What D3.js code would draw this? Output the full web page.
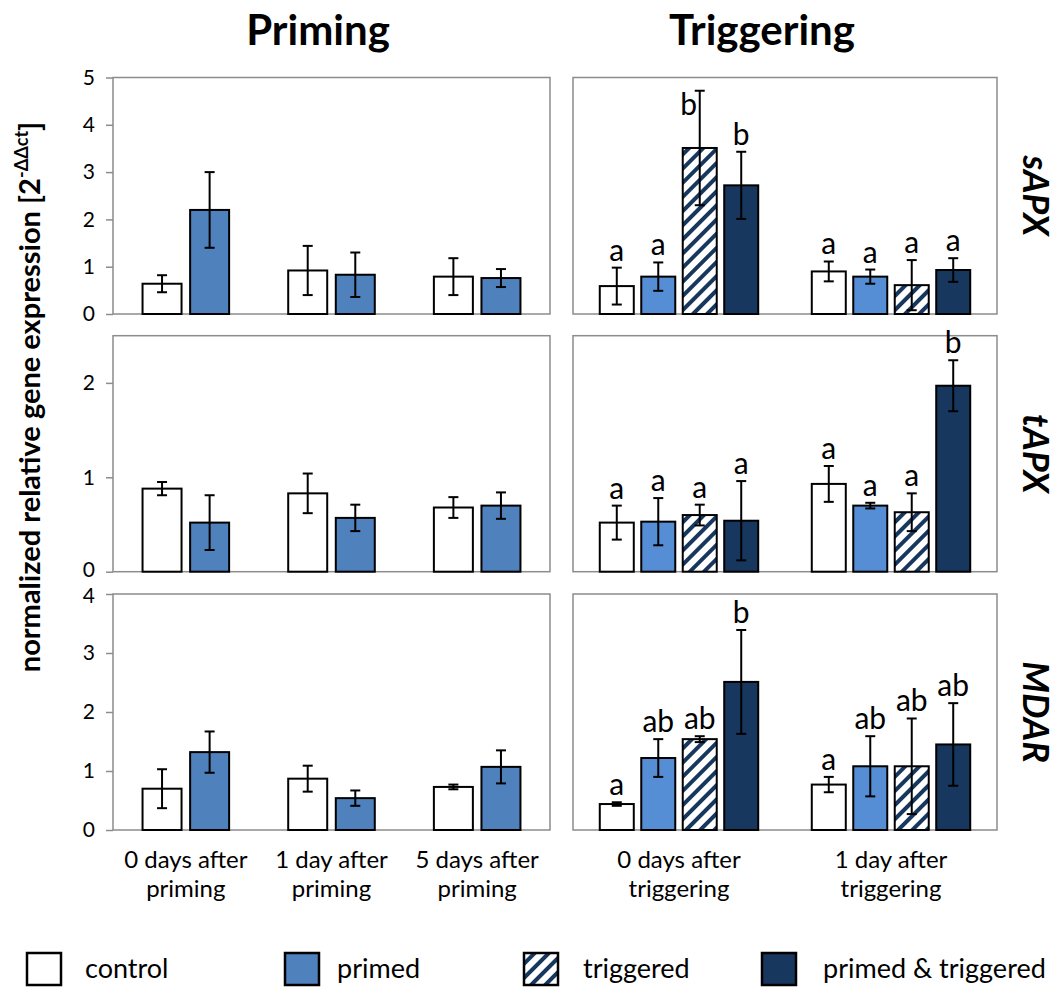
<!DOCTYPE html>
<html><head><meta charset="utf-8">
<script src="https://cdn.jsdelivr.net/npm/d3@7"></script>
<style>body{margin:0;background:#fff} svg{display:block} text{font-family:Lato,'Open Sans',sans-serif;fill:#000}</style>
</head><body><svg id="c" width="1060" height="987"></svg>
<script>
// ---------- data ----------
const primingTimes = [["0 days after","priming"],["1 day after","priming"],["5 days after","priming"]];
const triggeringTimes = [["0 days after","triggering"],["1 day after","triggering"]];
const genes = ["sAPX","tAPX","MDAR"];
const yMaxByGene = [5, 2.5, 4];
const yTicksByGene = [[0,1,2,3,4,5],[0,1,2],[0,1,2,3,4]];
const primingSeries = ["control","primed"];
const triggeringSeries = ["control","primed","triggered","primed & triggered"];
const legendLabels = ["control","primed","triggered","primed & triggered"];

// Priming panels: [series][time]
const sAPX_priming_mean = [[0.64,0.92,0.79],[2.20,0.83,0.76]];
const sAPX_priming_err  = [[0.18,0.52,0.39],[0.80,0.47,0.19]];
const tAPX_priming_mean = [[0.88,0.83,0.68],[0.52,0.57,0.70]];
const tAPX_priming_err  = [[0.07,0.21,0.11],[0.29,0.14,0.14]];
const MDAR_priming_mean = [[0.70,0.87,0.73],[1.32,0.54,1.07]];
const MDAR_priming_err  = [[0.33,0.22,0.04],[0.35,0.13,0.28]];

// Triggering panels: [series][time]
const sAPX_trig_mean = [[0.59,0.90],[0.79,0.79],[3.51,0.61],[2.72,0.93]];
const sAPX_trig_err  = [[0.39,0.21],[0.30,0.15],[1.21,0.53],[0.71,0.25]];
const sAPX_trig_letters = [["a","a"],["a","a"],["b","a"],["b","a"]];
const tAPX_trig_mean = [[0.52,0.93],[0.53,0.70],[0.60,0.63],[0.54,1.97]];
const tAPX_trig_err  = [[0.18,0.19],[0.25,0.03],[0.11,0.20],[0.42,0.27]];
const tAPX_trig_letters = [["a","a"],["a","a"],["a","a"],["a","b"]];
const MDAR_trig_mean = [[0.44,0.77],[1.22,1.08],[1.54,1.08],[2.51,1.45]];
const MDAR_trig_err  = [[0.03,0.13],[0.32,0.51],[0.05,0.81],[0.88,0.70]];
const MDAR_trig_letters = [["a","a"],["ab","ab"],["ab","ab"],["b","ab"]];

// ---------- layout / style ----------
const svg = d3.select("#c");
const C = {white:"#ffffff", primedP:"#4F81BD", primedT:"#558ED5", navy:"#17375E", border:"#8c8c8c"};
const defs = svg.append("defs");
const pat = defs.append("pattern").attr("id","hatch").attr("patternUnits","userSpaceOnUse")
  .attr("width",10).attr("height",10).attr("patternTransform","rotate(45)");
pat.append("rect").attr("width",10).attr("height",10).attr("fill","#fff");
pat.append("rect").attr("x",0).attr("width",4).attr("height",10).attr("fill",C.navy);

const primingFills = [C.white, C.primedP];
const trigFills = [C.white, C.primedT, "url(#hatch)", C.navy];
const legendFills = [C.white, C.primedP, "url(#hatch)", C.navy];

const rows = [{top:77.5,bot:314},{top:335.7,bot:571.7},{top:594,bot:830}];
const leftX = [113,550], rightX = [573,997];

const primingData = [
  [sAPX_priming_mean,sAPX_priming_err],
  [tAPX_priming_mean,tAPX_priming_err],
  [MDAR_priming_mean,MDAR_priming_err]];
const trigData = [
  [sAPX_trig_mean,sAPX_trig_err,sAPX_trig_letters],
  [tAPX_trig_mean,tAPX_trig_err,tAPX_trig_letters],
  [MDAR_trig_mean,MDAR_trig_err,MDAR_trig_letters]];

function panel(gi, xr, times, series, means, errs, letters, fills, barW, showAxis, showX){
  const r = rows[gi];
  const y = d3.scaleLinear().domain([0,yMaxByGene[gi]]).range([r.bot,r.top]);
  const tIdx = times.map((d,i)=>i);
  const x0 = d3.scaleBand().domain(tIdx).range(xr).paddingInner(0).paddingOuter(0);
  const gap = barW*0.22;
  const gw = series.length*barW + (series.length-1)*gap;
  const x1 = d3.scaleBand().domain(series.map((d,i)=>i)).range([0,gw]).paddingInner(gap/(barW+gap)).paddingOuter(0);
  const g = svg.append("g");
  g.append("rect").attr("x",xr[0]).attr("y",r.top).attr("width",xr[1]-xr[0]).attr("height",r.bot-r.top)
    .attr("fill","none").attr("stroke",C.border).attr("stroke-width",1.5);
  if(showAxis){
    const ax = d3.axisLeft(y).tickValues(yTicksByGene[gi]).tickSize(7).tickPadding(11).tickFormat(d3.format("d"));
    const a = g.append("g").attr("transform",`translate(${xr[0]},0)`).call(ax);
    a.select(".domain").remove();
    a.selectAll(".tick line").attr("stroke",C.border).attr("stroke-width",1.5);
    a.selectAll(".tick text").attr("font-size",21).attr("font-family","Lato").attr("fill","#000")
      .attr("y",d=>{
        // nudge labels sitting on a panel edge next to a neighbouring panel so they do not collide
        if(gi===1 && d===0) return -2;
        if(gi===2 && d===yMaxByGene[gi]) return 2;
        return 0;
      });
  }
  series.forEach((s,si)=>{
    tIdx.forEach(ti=>{
      const m = means[si][ti], e = errs[si][ti];
      const cx0 = x0(ti) + x0.bandwidth()/2 - gw/2 + x1(si);
      const cx = cx0 + x1.bandwidth()/2;
      g.append("rect").attr("x",cx0).attr("y",y(m)).attr("width",x1.bandwidth()).attr("height",y(0)-y(m))
        .attr("fill",fills[si]).attr("stroke","#000").attr("stroke-width",2);
      const eg = g.append("g").attr("stroke","#000").attr("stroke-width",2);
      eg.append("line").attr("x1",cx).attr("x2",cx).attr("y1",y(m+e)).attr("y2",y(Math.max(0,m-e)));
      [m+e, m-e].forEach(v=>eg.append("line").attr("x1",cx-5).attr("x2",cx+5).attr("y1",y(v)).attr("y2",y(v)));
      if(letters){
        let bl = y(m+e) - 7, lx = cx;
        if(bl - 22 < r.top - 5){ bl = r.top + 37; lx = cx - 11; }
        g.append("text").attr("x",lx).attr("y",bl).attr("text-anchor","middle")
          .attr("font-size",30).text(letters[si][ti]);
      }
    });
  });
  if(showX){
    tIdx.forEach(ti=>{
      const cx = x0(ti)+x0.bandwidth()/2;
      const t = g.append("text").attr("text-anchor","middle").attr("font-size",24);
      times[ti].forEach((ln,li)=>t.append("tspan").attr("x",cx).attr("y",868+li*29).text(ln));
    });
  }
}

genes.forEach((gn,gi)=>{
  panel(gi,leftX,primingTimes,primingSeries,primingData[gi][0],primingData[gi][1],null,primingFills,39,true,gi===2);
  panel(gi,rightX,triggeringTimes,triggeringSeries,trigData[gi][0],trigData[gi][1],trigData[gi][2],trigFills,34,false,gi===2);
  const r = rows[gi];
  svg.append("text").attr("transform",`translate(1037,${(r.top+r.bot)/2}) rotate(90)`)
    .attr("text-anchor","middle").attr("dominant-baseline","central")
    .attr("font-size",36).attr("font-weight","bold").attr("font-style","italic").text(gn);
});

// headers
svg.append("text").attr("x",318).attr("y",45).attr("text-anchor","middle").attr("font-size",42).attr("font-weight","bold").text("Priming");
svg.append("text").attr("x",762).attr("y",45).attr("text-anchor","middle").attr("font-size",42).attr("font-weight","bold").text("Triggering");

// y title
const yt = svg.append("text").attr("transform","translate(40,397) rotate(-90)").attr("text-anchor","middle")
  .attr("font-size",29).attr("font-weight","bold");
yt.append("tspan").text("normalized relative gene expression [2");
yt.append("tspan").attr("font-size",18).attr("dy",-12).text("-ΔΔct");
yt.append("tspan").attr("dy",12).text("]");

// legend
const legBoxX = [27,285,524,762], legTextX = [85,337,583,823];
legendLabels.forEach((l,i)=>{
  svg.append("rect").attr("x",legBoxX[i]).attr("y",953).attr("width",34).attr("height",32)
    .attr("fill",legendFills[i]).attr("stroke","#000").attr("stroke-width",2.5);
  svg.append("text").attr("x",legTextX[i]).attr("y",978).attr("font-size",27).text(l);
});
</script></body></html>
